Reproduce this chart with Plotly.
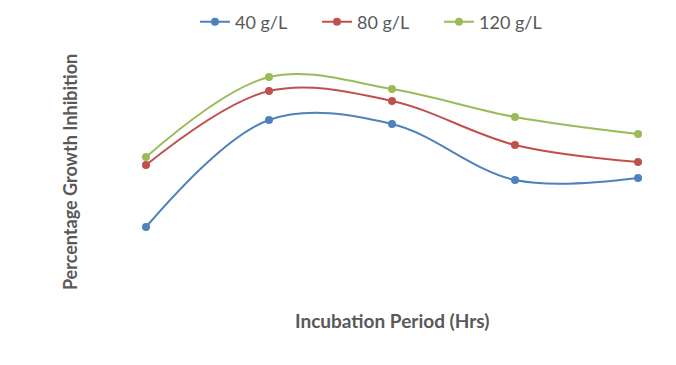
import plotly.graph_objects as go

categories = ["24", "48", "72", "96", "120"]
series_names = ["40 g/L", "80 g/L", "120 g/L"]
values_40 = [25.2, 68.0, 66.4, 44.0, 44.8]
values_80 = [50.0, 79.6, 75.6, 58.0, 51.2]
values_120 = [53.2, 85.2, 80.4, 69.2, 62.4]
colors = ["#4F81BD", "#C0504D", "#9BBB59"]
x_title = "Incubation Period (Hrs)"
y_title = "Percentage Growth Inhibition"

x_idx = list(range(len(categories)))
fig = go.Figure()
for name, vals, col in zip(series_names, [values_40, values_80, values_120], colors):
    fig.add_trace(go.Scatter(
        x=x_idx, y=vals, name=name, mode="lines+markers",
        line=dict(color=col, width=2, shape="spline", smoothing=1.0),
        marker=dict(color=col, size=8),
    ))

font_fam = "Lato, Open Sans, sans-serif"
fig.update_layout(
    width=676, height=365,
    margin=dict(l=92, r=28, t=2, b=83, autoexpand=False),
    paper_bgcolor="white", plot_bgcolor="white",
    font=dict(family=font_fam, color="#595959", size=18),
    showlegend=True,
    legend=dict(orientation="h", x=0.5, xanchor="center", y=0.957, yanchor="middle",
                entrywidth=77, entrywidthmode="pixels", font=dict(size=18, color="#595959"),
                itemwidth=30, bgcolor="rgba(0,0,0,0)"),
    xaxis=dict(range=[-0.374, 4.146], showgrid=False, zeroline=False, showline=False,
               showticklabels=False, ticks="", tickvals=x_idx, ticktext=categories,
               automargin=False),
    yaxis=dict(range=[0, 112], showgrid=False, zeroline=False, showline=False,
               showticklabels=False, ticks="", automargin=False),
    annotations=[
        dict(text="<b>" + x_title + "</b>", xref="paper", yref="paper", x=0.525, y=-0.1107,
             xanchor="center", yanchor="middle", showarrow=False,
             font=dict(size=19, color="#595959")),
        dict(text="<b>" + y_title + "</b>", xref="paper", yref="paper", x=-0.054, y=0.421,
             xanchor="center", yanchor="middle", showarrow=False, textangle=-90,
             font=dict(size=18, color="#595959")),
    ],
)
fig.write_html("out.html")
